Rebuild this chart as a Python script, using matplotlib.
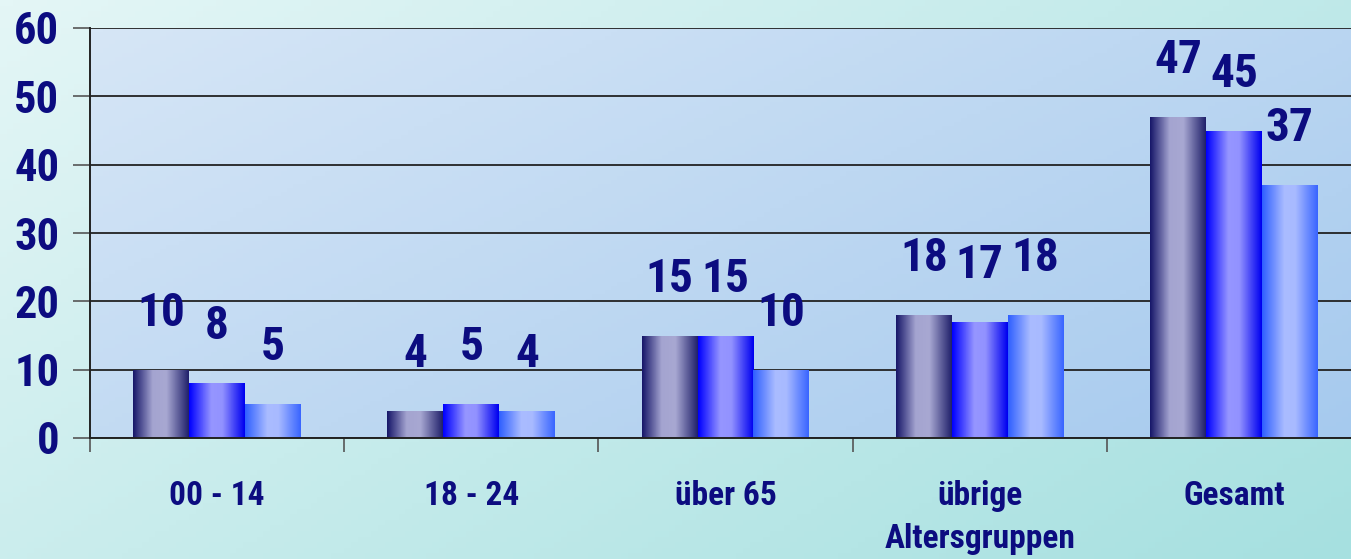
import numpy as np
import matplotlib
matplotlib.use("Agg")
import matplotlib.pyplot as plt
from matplotlib import font_manager
from matplotlib.colors import LinearSegmentedColormap

# chart data
categories = ["00 - 14", "18 - 24", "über 65", "übrige\nAltersgruppen", "Gesamt"]
series_a = [10, 4, 15, 18, 47]
series_b = [8, 5, 15, 17, 45]
series_c = [5, 4, 10, 18, 37]
yticks = [0, 10, 20, 30, 40, 50, 60]

navy = "#0c0c80"


def pick_font(names):
    for n in names:
        try:
            font_manager.findfont(font_manager.FontProperties(family=n), fallback_to_default=False)
            return n
        except ValueError:
            pass
    return None


# the original uses a narrow bold face; use one if it is there
narrow_font = pick_font(["Liberation Sans Narrow", "Arial Narrow", "Roboto Condensed",
                         "DejaVu Sans Condensed"])
if narrow_font:
    fam = [narrow_font, "DejaVu Sans"]
    val_size, ytick_size, xtick_size = 34, 32, 24
else:
    fam = ["Liberation Sans", "DejaVu Sans"]
    val_size, ytick_size, xtick_size = 30, 31, 21

# gradient maps for the bars (dark edge -> light middle -> dark edge)
cmaps = [
    LinearSegmentedColormap.from_list("a", [(0, "#18186a"), (0.35, "#a4a4d0"), (0.6, "#a8a8d2"), (1, "#22226c")]),
    LinearSegmentedColormap.from_list("b", [(0, "#0000ff"), (0.4, "#9696ff"), (0.6, "#9292ff"), (1, "#0000f0")]),
    LinearSegmentedColormap.from_list("c", [(0, "#3060ff"), (0.4, "#aabcff"), (0.6, "#a8baff"), (1, "#3a66ff")]),
]

fig = plt.figure(figsize=(13.51, 5.59), dpi=100)

# figure background gradient
bg = fig.add_axes([0, 0, 1, 1], zorder=-10)
gx, gy = np.meshgrid(np.linspace(0, 1, 200), np.linspace(0, 1, 100))
bg.imshow(gx * 0.6 + gy * 0.4, cmap=LinearSegmentedColormap.from_list("fbg", ["#e4f6f6", "#a6e0e0"]),
          aspect="auto", extent=[0, 1, 0, 1], origin="upper")
bg.axis("off")

ax = fig.add_axes([90 / 1351, 1 - 438 / 559, 1271 / 1351, 410 / 559])
ax.patch.set_visible(False)
ax.imshow(gx * 0.6 + gy * 0.4, cmap=LinearSegmentedColormap.from_list("abg", ["#d6e6f6", "#a6caee"]),
          aspect="auto", extent=[-0.5, 4.5, 0, 60], origin="upper", zorder=0)

x = np.arange(len(categories))
w = 0.22
ramp = np.linspace(0, 1, 64).reshape(1, -1)
for i, (vals, cm) in enumerate(zip([series_a, series_b, series_c], cmaps)):
    bars = ax.bar(x + (i - 1) * w, vals, w, facecolor="none", edgecolor="none", zorder=3)
    for b, v in zip(bars, vals):
        im = ax.imshow(ramp, cmap=cm, aspect="auto", zorder=3,
                       extent=[b.get_x(), b.get_x() + b.get_width(), 0, b.get_height()])
        im.set_clip_path(b)
        ax.annotate(str(v), (b.get_x() + b.get_width() / 2, v), xytext=(0, 41),
                    textcoords="offset points", ha="center", va="center",
                    fontsize=val_size, fontweight="bold", color=navy, family=fam, zorder=5)

ax.set_xlim(-0.5, 4.5)
ax.set_ylim(0, 60)

# grid and spines
ax.set_yticks(yticks)
ax.yaxis.grid(True, color="#222222", linewidth=1.3, zorder=1)
ax.set_axisbelow(False)
for s in ["top", "right"]:
    ax.spines[s].set_visible(False)
for s in ["left", "bottom"]:
    ax.spines[s].set_color("#222222")
    ax.spines[s].set_linewidth(1.4)
    ax.spines[s].set_zorder(4)

ax.tick_params(axis="y", length=12, width=1.2, color="#555555", pad=10)
for t in ax.get_yticklabels():
    t.set_fontsize(ytick_size)
    t.set_fontweight("bold")
    t.set_color(navy)
    t.set_family(fam)

ax.set_xticks(np.arange(-0.5, 5, 1))
ax.set_xticklabels([])
ax.tick_params(axis="x", which="major", length=10, width=1.2, color="#555555")
ax.set_xticks(x, minor=True)
ax.set_xticklabels(categories, minor=True, fontsize=xtick_size, fontweight="bold", color=navy,
                   family=fam, linespacing=1.45)
ax.tick_params(axis="x", which="minor", length=0, pad=30)

fig.savefig("out.png", dpi=100)
